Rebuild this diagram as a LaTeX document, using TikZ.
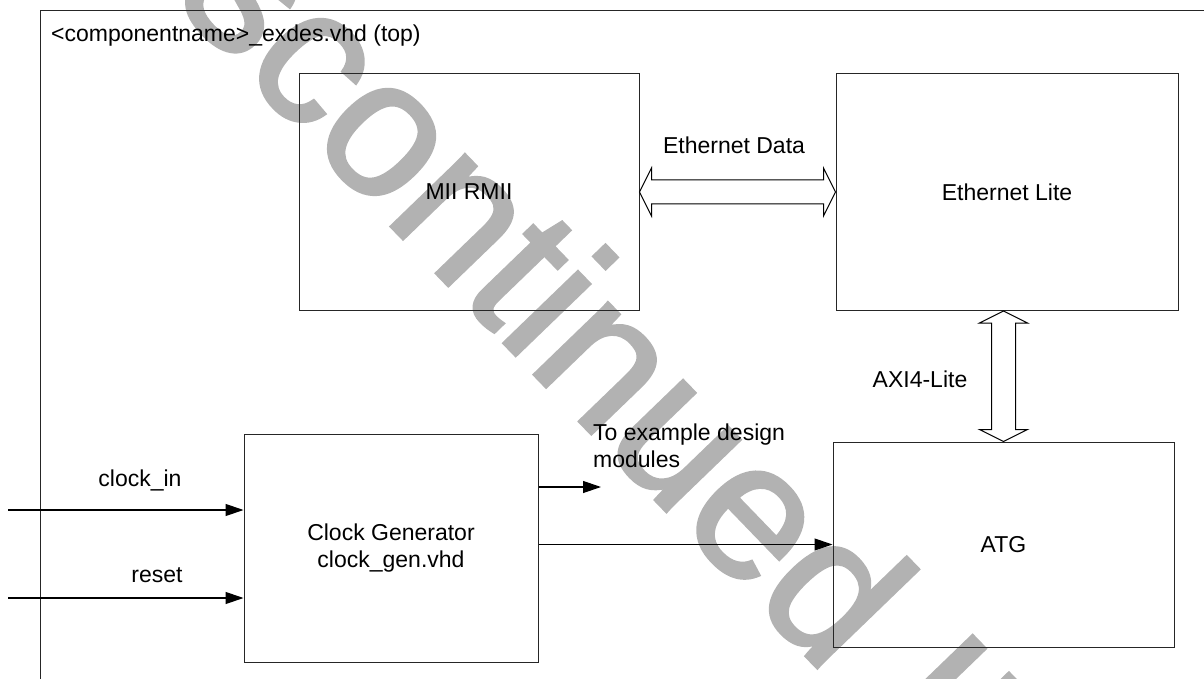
\documentclass[tikz,border=0pt]{standalone}
\usepackage{fontspec}
\setmainfont{Liberation Sans}
\newfontfamily\wmfont[FakeBold=1.6]{Liberation Sans}
\usetikzlibrary{arrows.meta,calc}
\begin{document}
\begin{tikzpicture}[x=1pt,y=-1pt,
  blk/.style={draw=black!85, line width=1pt, inner sep=0pt, align=center, font=\fontsize{23}{27}\selectfont},
  lbl/.style={inner sep=0pt, font=\fontsize{23}{27}\selectfont},
  sig/.style={draw=black, line width=1.2pt, -{Triangle[length=18pt,width=12pt]}},
  bus/.style={draw=black, line width=1pt, fill=white, line join=miter},
  wmark/.style={inner sep=0pt, text=black!30, font=\wmfont\fontsize{195}{195}\selectfont}]
\useasboundingbox (0,0) rectangle (1204,679);
\clip (0,0) rectangle (1204,679);
% watermark
\node[wmark, rotate=-46, anchor=base west] (wm) at (43,-134) {Discontinued IP};
% top-level frame
\node[draw=black!85, line width=1pt, anchor=north west, minimum width=1400pt, minimum height=900pt] (top) at (40,10.5) {};
\node[lbl, anchor=base west] (title) at (51,42) {<componentname>\_exdes.vhd (top)};
% blocks
\node[blk, minimum width=340pt, minimum height=237pt] (mii) at (469,192) {MII RMII};
\node[blk, minimum width=342pt, minimum height=237pt] (eth) at (1007,192) {Ethernet Lite};
\node[blk, minimum width=294pt, minimum height=228pt] (clk) at (391,548) {Clock Generator\\clock\_gen.vhd};
\node[blk, minimum width=341pt, minimum height=205pt] (atg) at (1003.5,544.5) {ATG};
% bus arrows
\draw[bus] (mii.east) -- ++(12,-24) -- ++(0,12) -- ($(eth.west)+(-12,-12)$) -- ++(0,-12) -- (eth.west)
  -- ++(-12,24) -- ++(0,-12) -- ($(mii.east)+(12,12)$) -- ++(0,12) -- cycle;
\coordinate (vt) at (atg.north |- eth.south);
\draw[bus] (vt) -- ++(24,12) -- ++(-12,0) -- ($(atg.north)+(12,-12)$) -- ++(12,0) -- (atg.north)
  -- ++(-24,-12) -- ++(12,0) -- ($(vt)+(-12,12)$) -- ++(-12,0) -- cycle;
% labels
\node[lbl, anchor=base] (edl) at (734,154) {Ethernet Data};
\node[lbl, anchor=base] (axl) at (920,387) {AXI4-Lite};
\node[lbl, anchor=base] (cil) at (140,486) {clock\_in};
\node[lbl, anchor=base] (rsl) at (157,582) {reset};
\node[lbl, anchor=west, align=left] (tex) at (593,446) {To example design\\modules};
% signals
\coordinate (ci) at (8,510);
\coordinate (rs) at (8,598);
\coordinate (tx) at (601,487);
\draw[sig] (ci) -- (ci -| clk.west);
\draw[sig] (rs) -- (rs -| clk.west);
\draw[sig] (clk.east |- tx) -- (tx);
\draw[sig] (clk.east |- atg.west) -- (atg.west);
\end{tikzpicture}
\end{document}
